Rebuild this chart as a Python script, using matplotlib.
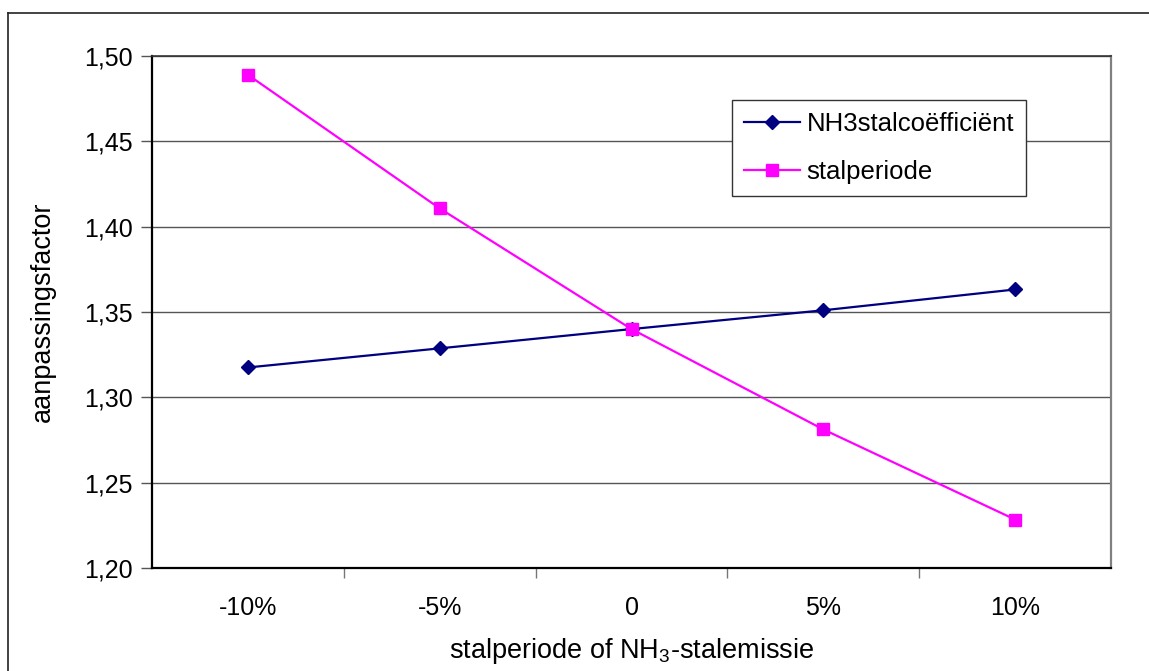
import matplotlib
matplotlib.use('Agg')
import matplotlib.pyplot as plt
from matplotlib.lines import Line2D
from matplotlib.ticker import FuncFormatter, FixedLocator

plt.rcParams['font.family'] = ['Liberation Sans', 'DejaVu Sans']
plt.rcParams['mathtext.default'] = 'regular'

# aanpassingsfactor bij variatie van de invoer
categories = ['-10%', '-5%', '0', '5%', '10%']
nh3_coef = [1.3175, 1.3287, 1.340, 1.351, 1.3632]
stalperiode = [1.489, 1.4107, 1.340, 1.2812, 1.2284]

fig = plt.figure(figsize=(11.49, 6.71), dpi=100)
ax = fig.add_axes([152 / 1149, 103 / 671, (1111 - 152) / 1149, (568 - 56) / 671])

x = list(range(len(categories)))
ax.plot(x, nh3_coef, color='#000080', lw=1.6, marker='D', ms=7.5,
        label='NH3stalcoëfficiënt', zorder=3)
ax.plot(x, stalperiode, color='#FF00FF', lw=1.6, marker='s', ms=8,
        label='stalperiode', zorder=3)

ax.set_xlim(-0.5, len(categories) - 0.5)
ax.set_ylim(1.20, 1.50)
ax.set_yticks([1.20, 1.25, 1.30, 1.35, 1.40, 1.45, 1.50])
ax.yaxis.set_major_formatter(FuncFormatter(lambda v, p: f'{v:.2f}'.replace('.', ',')))
ax.grid(axis='y', color='#555555', lw=1.0, zorder=0)

# categorielabels tussen de tickstreepjes
ax.xaxis.set_major_locator(FixedLocator([i + 0.5 for i in x[:-1]]))
ax.xaxis.set_minor_locator(FixedLocator(x))
ax.set_xticklabels([])
ax.set_xticklabels(categories, minor=True)
ax.tick_params(axis='x', which='major', direction='out', length=7, width=1, color='#777777')
ax.tick_params(axis='x', which='minor', length=0, pad=20, labelsize=18)
ax.tick_params(axis='y', direction='out', length=8, width=1, color='#555555',
               labelsize=18, pad=6)

for side in ['left', 'bottom']:
    ax.spines[side].set_color('black')
    ax.spines[side].set_linewidth(1.6)
ax.spines['top'].set_color('#333333')
ax.spines['top'].set_linewidth(1.2)
ax.spines['right'].set_color('#808080')
ax.spines['right'].set_linewidth(1.6)

ax.set_ylabel('aanpassingsfactor', fontsize=19.5, labelpad=20)
ax.set_xlabel('stalperiode of NH$_3$-stalemissie', fontsize=19.5, labelpad=12)

leg = ax.legend(loc='upper left', bbox_to_anchor=(732 / 1149, 1 - 100 / 671),
                bbox_transform=fig.transFigure, fontsize=18.5, frameon=True,
                fancybox=False, edgecolor='#333333', framealpha=1,
                handlelength=2.2, borderpad=0.45, labelspacing=0.95,
                handletextpad=0.25, borderaxespad=0)
leg.get_frame().set_linewidth(1.0)
leg.set_zorder(5)

# kader rond de grafiek
fig.add_artist(Line2D([8 / 1149, 8 / 1149], [0, 1 - 13 / 671], color='#222222', lw=1.2,
                      transform=fig.transFigure))
fig.add_artist(Line2D([8 / 1149, 1], [1 - 13 / 671, 1 - 13 / 671], color='#222222', lw=1.2,
                      transform=fig.transFigure))

fig.savefig('out.png', dpi=100)
